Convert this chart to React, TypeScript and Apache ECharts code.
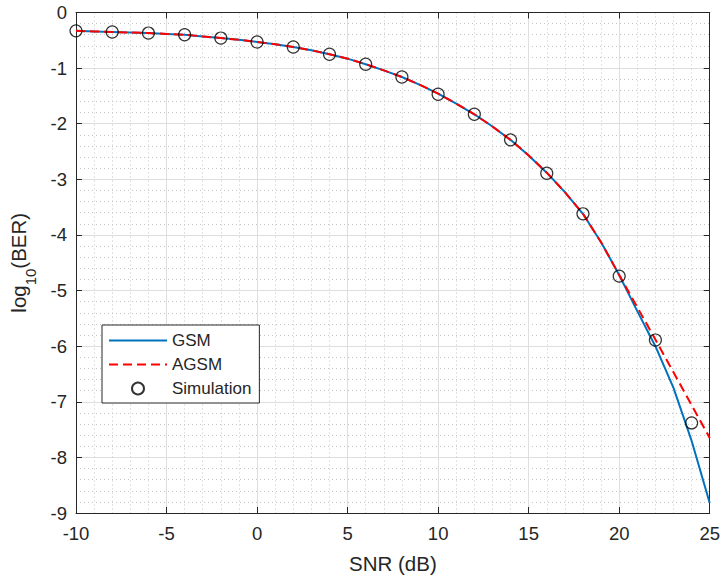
import React, { useEffect, useRef } from "react";
import * as echarts from "echarts";

const snrCurve = [-10, -9, -8, -7, -6, -5, -4, -3, -2, -1, 0, 1, 2, 3, 4, 5, 6, 7, 8, 9, 10, 11, 12, 13, 14, 15, 16, 17, 18, 19, 20, 21, 22, 23, 24, 25];
const gsm = [-0.33, -0.34, -0.35, -0.36, -0.37, -0.385, -0.40, -0.43, -0.46, -0.49, -0.53, -0.57, -0.62, -0.68, -0.75, -0.83, -0.93, -1.04, -1.16, -1.30, -1.46, -1.64, -1.83, -2.05, -2.29, -2.57, -2.88, -3.23, -3.62, -4.13, -4.72, -5.37, -6.00, -6.75, -7.70, -8.82];
const agsm = [-0.33, -0.34, -0.35, -0.36, -0.37, -0.385, -0.40, -0.43, -0.46, -0.49, -0.53, -0.57, -0.62, -0.68, -0.75, -0.83, -0.93, -1.04, -1.16, -1.30, -1.46, -1.64, -1.83, -2.05, -2.29, -2.57, -2.88, -3.23, -3.62, -4.13, -4.72, -5.30, -5.88, -6.47, -7.06, -7.65];
const snrSim = [-10, -8, -6, -4, -2, 0, 2, 4, 6, 8, 10, 12, 14, 16, 18, 20, 22, 24];
const simulation = [-0.33, -0.35, -0.37, -0.40, -0.46, -0.53, -0.62, -0.75, -0.93, -1.16, -1.47, -1.83, -2.29, -2.89, -3.62, -4.74, -5.89, -7.38];
const legendNames = ["GSM", "AGSM", "Simulation"];

const FONT = "Liberation Sans, Arial, Helvetica, sans-serif";
const TXT = "#262626";
const TICK_FS = 18.5;
const NAME_FS = 20.5;

export default function App() {
  const ref = useRef<HTMLDivElement>(null);
  useEffect(() => {
    if (!ref.current) return;
    const chart = echarts.init(ref.current, null, { renderer: "svg" });
    const axisCommon = {
      axisLine: { show: true, onZero: false, lineStyle: { color: TXT, width: 1 } },
      axisTick: { show: true, inside: true, length: 6, lineStyle: { color: TXT } },
    };
    chart.setOption({
      animation: false,
      backgroundColor: "#ffffff",
      textStyle: { fontFamily: FONT, color: TXT },
      grid: { left: 76, top: 12.5, right: 12, bottom: 67, containLabel: false },
      legend: {
        orient: "vertical",
        left: 102,
        top: 325,
        padding: [7, 8, 6, 6],
        backgroundColor: "#ffffff",
        borderColor: TXT,
        borderWidth: 1,
        itemWidth: 58,
        itemHeight: 12,
        itemGap: 7,
        textStyle: { fontSize: 17, color: TXT, fontFamily: FONT },
        data: [
          { name: legendNames[0], itemStyle: { opacity: 0 } },
          { name: legendNames[1], itemStyle: { opacity: 0 } },
          { name: legendNames[2] },
        ],
      },
      xAxis: [
        {
          type: "value",
          min: -10,
          max: 25,
          interval: 5,
          ...axisCommon,
          axisLabel: { fontSize: TICK_FS, color: TXT, margin: 11, fontFamily: FONT },
          splitLine: { show: true, lineStyle: { color: "#dedede", width: 1 } },
          minorTick: { show: false, splitNumber: 5 },
          minorSplitLine: { show: true, lineStyle: { color: "#c4c4c4", width: 1, type: [1, 3] } },
          name: "SNR (dB)",
          nameLocation: "middle",
          nameGap: 40,
          nameTextStyle: { fontSize: NAME_FS, color: TXT, fontFamily: FONT },
        },
        {
          type: "value",
          position: "top",
          min: -10,
          max: 25,
          interval: 5,
          ...axisCommon,
          axisLabel: { show: false },
          splitLine: { show: false },
        },
      ],
      yAxis: [
        {
          type: "value",
          min: -9,
          max: 0,
          interval: 1,
          ...axisCommon,
          axisLabel: { fontSize: TICK_FS, color: TXT, margin: 9, fontFamily: FONT },
          splitLine: { show: true, lineStyle: { color: "#dedede", width: 1 } },
          minorTick: { show: false, splitNumber: 5 },
          minorSplitLine: { show: true, lineStyle: { color: "#c4c4c4", width: 1, type: [1, 3] } },
          name: "{a|log}{b|10}{a|(BER)}",
          nameLocation: "middle",
          nameGap: 38,
          nameTextStyle: {
            color: TXT,
            fontFamily: FONT,
            rich: {
              a: { fontSize: NAME_FS, color: TXT, fontFamily: FONT, verticalAlign: "top", lineHeight: 30 },
              b: { fontSize: 15, color: TXT, fontFamily: FONT, verticalAlign: "bottom", lineHeight: 15 },
            },
          },
        },
        {
          type: "value",
          position: "right",
          min: -9,
          max: 0,
          interval: 1,
          ...axisCommon,
          axisLabel: { show: false },
          splitLine: { show: false },
        },
      ],
      series: [
        {
          name: "GSM",
          type: "line",
          data: snrCurve.map((x, i) => [x, gsm[i]]),
          showSymbol: false,
          symbol: "none",
          lineStyle: { color: "#0072BD", width: 2 },
          itemStyle: { color: "#0072BD" },
          z: 2,
        },
        {
          name: "AGSM",
          type: "line",
          data: snrCurve.map((x, i) => [x, agsm[i]]),
          showSymbol: false,
          symbol: "none",
          lineStyle: { color: "#FF0000", width: 2, type: [9, 5] },
          itemStyle: { color: "#FF0000" },
          z: 3,
        },
        {
          name: "Simulation",
          type: "scatter",
          data: snrSim.map((x, i) => [x, simulation[i]]),
          symbol: "circle",
          symbolSize: 12,
          itemStyle: { color: "rgba(255,255,255,0)", borderColor: "#000000", borderWidth: 1.2 },
          z: 4,
        },
      ],
    });
    return () => chart.dispose();
  }, []);
  return <div ref={ref} style={{ width: 723, height: 580, position: "absolute", left: 0, top: 0 }} />;
}
